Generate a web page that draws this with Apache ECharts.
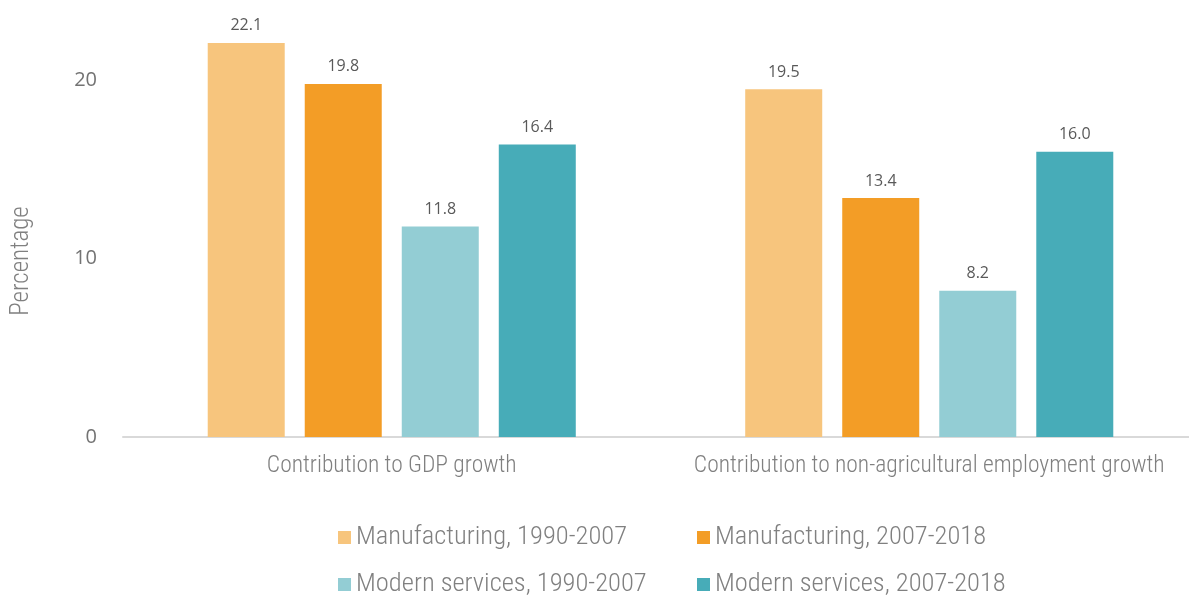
<!DOCTYPE html>
<html>
<head>
<meta charset="utf-8">
<script src="https://cdn.jsdelivr.net/npm/echarts@6/dist/echarts.min.js"></script>
<style>
  html, body { margin: 0; padding: 0; background: #fff; }
  #chart { width: 1189px; height: 596px; }
</style>
</head>
<body>
<div id="chart"></div>
<script>
const categories = ['Contribution to GDP growth', 'Contribution to non-agricultural employment growth']
const seriesNames = [
  'Manufacturing, 1990-2007',
  'Manufacturing, 2007-2018',
  'Modern services, 1990-2007',
  'Modern services, 2007-2018'
]
const manufacturing1990 = [22.1, 19.5]
const manufacturing2007 = [19.8, 13.4]
const services1990 = [11.8, 8.2]
const services2007 = [16.4, 16.0]
const yTicks = [0, 10, 20]

const colors = ['#F7C57D', '#F39D26', '#93CDD4', '#47ACB8']
const condensed = "'Roboto Condensed', Roboto, sans-serif"
const openSans = "'Open Sans', sans-serif"

const chart = echarts.init(document.getElementById('chart'))

const legendText = {
  fontFamily: condensed,
  fontWeight: 300,
  fontSize: 26.5,
  color: '#808080'
}

chart.setOption({
  animation: false,
  color: colors,
  grid: {
    left: 123,
    width: 1075,
    top: 9,
    bottom: 159,
    outerBoundsMode: 'none'
  },
  graphic: [{
    type: 'text',
    x: 22,
    y: 261,
    rotation: Math.PI / 2,
    style: {
      text: 'Percentage',
      fontFamily: condensed,
      fontWeight: 300,
      fontSize: 25,
      fill: '#808080',
      align: 'center',
      verticalAlign: 'middle'
    }
  }],
  legend: [{
    orient: 'vertical',
    left: 333,
    top: 519,
    height: 150,
    itemWidth: 13,
    itemHeight: 13,
    itemGap: 20,
    icon: 'rect',
    textStyle: legendText,
    data: [seriesNames[0], seriesNames[2]]
  }, {
    orient: 'vertical',
    left: 692,
    top: 519,
    height: 150,
    itemWidth: 13,
    itemHeight: 13,
    itemGap: 20,
    icon: 'rect',
    textStyle: legendText,
    data: [seriesNames[1], seriesNames[3]]
  }],
  xAxis: {
    type: 'category',
    data: categories,
    axisLine: { lineStyle: { color: '#D9D9D9', width: 2 } },
    axisTick: { show: false },
    axisLabel: {
      interval: 0,
      margin: 17,
      fontFamily: condensed,
      fontWeight: 300,
      fontSize: 23.5,
      color: '#808080'
    }
  },
  yAxis: {
    type: 'value',
    min: 0,
    max: 24,
    interval: 10,
    splitLine: { show: false },
    axisLine: { show: false },
    axisTick: { show: false },
    axisLabel: {
      margin: 26,
      fontFamily: openSans,
      fontSize: 20,
      color: '#737373',
      formatter: v => (yTicks.includes(v) ? String(v) : '')
    }
  },
  series: [manufacturing1990, manufacturing2007, services1990, services2007].map((data, i) => ({
    name: seriesNames[i],
    type: 'bar',
    data: data,
    barWidth: 77,
    barGap: '26%',
    label: {
      show: true,
      position: 'top',
      distance: 9,
      formatter: p => p.value.toFixed(1),
      fontFamily: openSans,
      fontSize: 16,
      color: '#595959'
    }
  }))
})
</script>
</body>
</html>
